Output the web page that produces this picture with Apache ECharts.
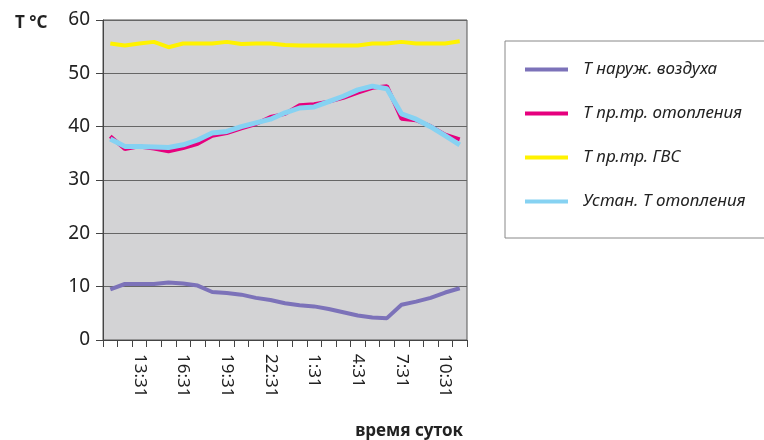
<!DOCTYPE html>
<html>
<head>
<meta charset="utf-8">
<script src="https://cdn.jsdelivr.net/npm/echarts@6/dist/echarts.min.js"></script>
<style>
  html, body { margin: 0; padding: 0; background: #fff; }
  #chart { width: 764px; height: 440px; }
</style>
</head>
<body>
<div id="chart"></div>
<script>
// часы замеров (каждый час, с 11:31 до 11:31 следующих суток)
var hours = ['11:31', '12:31', '13:31', '14:31', '15:31', '16:31', '17:31', '18:31', '19:31', '20:31',
    '21:31', '22:31', '23:31', '0:31', '1:31', '2:31', '3:31', '4:31', '5:31', '6:31',
    '7:31', '8:31', '9:31', '10:31', '11:31'];

var outdoor = [9.5, 10.5, 10.5, 10.5, 10.8, 10.6, 10.2, 9.0, 8.8, 8.5, 7.9, 7.5, 6.9, 6.5, 6.3,
    5.8, 5.2, 4.6, 4.2, 4.1, 6.6, 7.2, 7.9, 8.9, 9.7];
var heating = [38.2, 35.8, 36.3, 35.9, 35.4, 36.0, 36.8, 38.3, 38.8, 39.7, 40.5, 41.8, 42.4, 44.0, 44.2,
    44.7, 45.4, 46.4, 47.3, 47.6, 41.5, 41.2, 40.1, 38.5, 37.6];
var hotWater = [55.6, 55.2, 55.6, 55.9, 54.9, 55.6, 55.6, 55.6, 55.9, 55.5, 55.6, 55.6, 55.3, 55.2, 55.2,
    55.2, 55.2, 55.2, 55.6, 55.6, 55.9, 55.6, 55.6, 55.6, 56.0];
var setpoint = [37.7, 36.3, 36.3, 36.2, 36.1, 36.6, 37.5, 38.8, 39.1, 40.0, 40.7, 41.4, 42.6, 43.5, 43.7,
    44.7, 45.7, 46.9, 47.6, 47.1, 42.4, 41.4, 40.0, 38.3, 36.6];

var seriesNames = ['Т наруж. воздуха', 'Т пр.тр. отопления', 'Т пр.тр. ГВС', 'Устан. Т отопления'];
var seriesColors = ['#7c72b9', '#e6007e', '#fff200', '#86d2f2'];

var font = '"Noto Sans", "DejaVu Sans", sans-serif';

var chart = echarts.init(document.getElementById('chart'));

function makeLine(i, data, width) {
    return {
        name: seriesNames[i],
        type: 'line',
        data: data,
        symbol: 'none',
        smooth: false,
        z: 2 + i,
        itemStyle: { color: seriesColors[i] },
        lineStyle: { color: seriesColors[i], width: width }
    };
}

var option = {
    animation: false,
    backgroundColor: '#fff',
    title: [
        {
            text: 'T °C',
            left: 10, top: 10,
            textStyle: { fontFamily: font, fontSize: 17, fontWeight: 'bold', color: '#222' }
        },
        {
            text: 'время суток',
            right: 296, top: 418,
            textStyle: { fontFamily: font, fontSize: 17, fontWeight: 'bold', color: '#222' }
        }
    ],
    legend: {
        orient: 'vertical',
        left: 505, top: 41,
        padding: [20, 30, 28, 20],
        itemGap: 27,
        itemWidth: 43,
        itemHeight: 18,
        borderColor: '#888',
        borderWidth: 1,
        data: seriesNames.map(function (n, i) {
            return {
                name: n,
                icon: 'path://M0,7 L43,7 L43,11 L0,11 Z',
                itemStyle: { color: seriesColors[i] }
            };
        }),
        textStyle: {
            fontFamily: font, fontSize: 17, fontStyle: 'italic', color: '#222',
            padding: [0, 0, 0, 10]
        }
    },
    grid: {
        left: 103, right: 297, top: 20, bottom: 100,
        show: true,
        backgroundColor: '#d3d3d5',
        borderColor: '#555',
        borderWidth: 1
    },
    xAxis: {
        type: 'category',
        data: hours,
        boundaryGap: true,
        axisLine: { lineStyle: { color: '#444', width: 1 } },
        axisTick: { show: true, interval: 0, length: 7, lineStyle: { color: '#444' } },
        axisLabel: {
            interval: function (index) { return index % 3 === 2; },
            rotate: -90,
            margin: 14,
            fontFamily: font,
            fontSize: 17,
            color: '#222'
        }
    },
    yAxis: {
        type: 'value',
        min: 0, max: 60, interval: 10,
        axisLine: { show: true, lineStyle: { color: '#444' } },
        axisTick: { show: true, length: 7, lineStyle: { color: '#444' } },
        axisLabel: { fontFamily: font, fontSize: 19, color: '#222', margin: 13 },
        splitLine: { lineStyle: { color: '#666', width: 1.2 } }
    },
    series: [
        makeLine(0, outdoor, 4),
        makeLine(1, heating, 4),
        makeLine(2, hotWater, 4),
        makeLine(3, setpoint, 5)
    ]
};

chart.setOption(option);
</script>
</body>
</html>
